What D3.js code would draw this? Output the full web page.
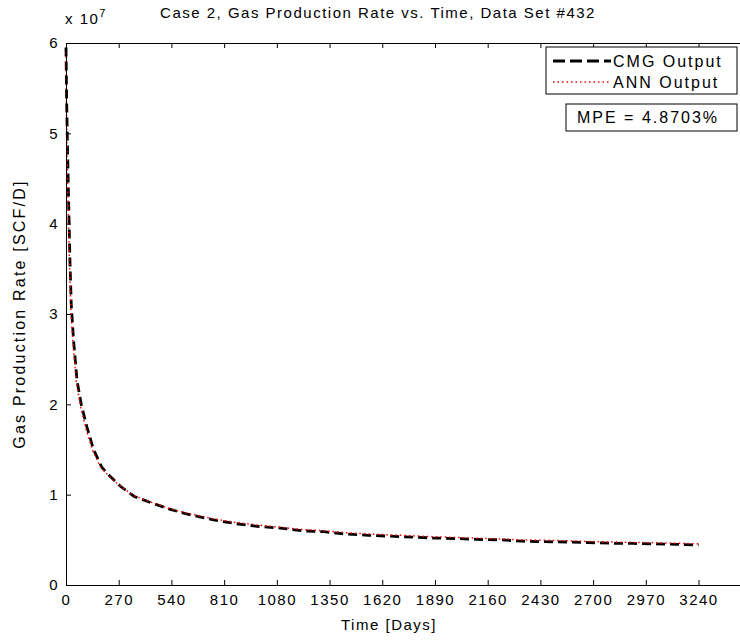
<!DOCTYPE html>
<html>
<head>
<meta charset="utf-8">
<script src="https://cdn.jsdelivr.net/npm/d3@7"></script>
<style>
  body { margin: 0; background: #fff; overflow: hidden; }
  svg { display: block; overflow: hidden; }
  text { font-family: "Liberation Sans", Arial, sans-serif; font-size: 15px; letter-spacing: 1.5px; fill: #000; }
</style>
</head>
<body>
<div id="chart"></div>
<script>
// time in days
var cmgDays = [0, 3, 8, 14, 20, 27, 39, 48, 56, 78, 107, 141, 184, 227, 280, 350, 450, 530, 612, 756, 867, 978, 1098, 1209, 1320, 1431, 1549, 1661, 1773, 1883, 1986, 2105, 2225, 2336, 2446, 2564, 2676, 2789, 2905, 3019, 3130, 3240];
// gas rate, SCF/D
var cmgRate = [5.95e7, 5.4e7, 4.8e7, 4.2e7, 3.6e7, 3.1e7, 2.7e7, 2.48e7, 2.27e7, 2.0e7, 1.75e7, 1.5e7, 1.3e7, 1.2e7, 1.09e7, 9.8e6, 9.0e6, 8.4e6, 7.9e6, 7.2e6, 6.8e6, 6.5e6, 6.3e6, 6.0e6, 5.9e6, 5.65e6, 5.5e6, 5.4e6, 5.3e6, 5.2e6, 5.15e6, 5.05e6, 5.0e6, 4.85e6, 4.8e6, 4.76e6, 4.7e6, 4.62e6, 4.6e6, 4.55e6, 4.5e6, 4.43e6];

var annDays = [0, 2, 6, 12, 18, 25, 36, 45, 53, 74, 102, 136, 178, 222, 275, 345, 445, 525, 608, 750, 862, 975, 1095, 1205, 1318, 1428, 1545, 1658, 1770, 1880, 1984, 2102, 2222, 2333, 2444, 2561, 2673, 2786, 2902, 3016, 3128, 3240];
var annRate = [5.9e7, 5.3e7, 4.7e7, 4.1e7, 3.55e7, 3.05e7, 2.68e7, 2.45e7, 2.25e7, 1.98e7, 1.73e7, 1.49e7, 1.3e7, 1.2e7, 1.1e7, 9.9e6, 9.1e6, 8.5e6, 8.0e6, 7.35e6, 6.95e6, 6.65e6, 6.4e6, 6.15e6, 6.0e6, 5.8e6, 5.65e6, 5.55e6, 5.45e6, 5.35e6, 5.28e6, 5.18e6, 5.1e6, 5.0e6, 4.95e6, 4.9e6, 4.82e6, 4.76e6, 4.72e6, 4.66e6, 4.62e6, 4.55e6];

var xTicks = [0, 270, 540, 810, 1080, 1350, 1620, 1890, 2160, 2430, 2700, 2970, 3240];
var yTicks = [0, 1, 2, 3, 4, 5, 6];

var titleText = "Case 2, Gas Production Rate vs. Time, Data Set #432";
var seriesNames = ["CMG Output", "ANN Output"];
var mpeText = "MPE = 4.8703%";

var margin = {top: 43, left: 66, bottom: 59},
    W = 740, H = 644,
    plotW = 695,
    plotH = H - margin.top - margin.bottom;

var svg = d3.select("#chart").append("svg")
    .attr("width", W)
    .attr("height", H);

var g = svg.append("g")
    .attr("transform", "translate(" + margin.left + "," + margin.top + ")");

// axis runs past the window edge, like the cropped original
var x = d3.scaleLinear().domain([0, 3560]).range([0, plotW]);
var y = d3.scaleLinear().domain([0, 6e7]).range([plotH, 0]);

var line = d3.line()
    .x(function(d) { return x(d[0]); })
    .y(function(d) { return y(d[1]); });

var cmg = d3.zip(cmgDays, cmgRate);
var ann = d3.zip(annDays, annRate);

g.append("path")
    .datum(cmg)
    .attr("d", line)
    .attr("fill", "none")
    .attr("stroke", "#000")
    .attr("stroke-width", 2.8)
    .attr("stroke-dasharray", "9,5");

g.append("path")
    .datum(ann)
    .attr("d", line)
    .attr("fill", "none")
    .attr("stroke", "#ff0000")
    .attr("stroke-width", 1.5)
    .attr("stroke-dasharray", "1.5,3");

// axes, ticks inward
var xAxis = d3.axisBottom(x).tickValues(xTicks).tickSize(-5).tickPadding(9).tickFormat(d3.format("d"));
var xTop = d3.axisTop(x).tickValues(xTicks).tickSize(-5).tickFormat("");
var yAxis = d3.axisLeft(y).tickValues(yTicks.map(function(d) { return d * 1e7; })).tickSize(-5).tickPadding(7)
    .tickFormat(function(d) { return d / 1e7; });
var yRight = d3.axisRight(y).tickValues(yTicks.map(function(d) { return d * 1e7; })).tickSize(-5).tickFormat("");

function styleAxis(sel) {
  sel.selectAll("path").attr("stroke", "#000").attr("stroke-width", 1);
  sel.selectAll("line").attr("stroke", "#000");
  sel.selectAll("text").style("font-size", "15px").attr("fill", "#000");
}

g.append("g").attr("transform", "translate(0," + plotH + ")").call(xAxis).call(styleAxis);
g.append("g").call(xTop).call(styleAxis);
g.append("g").call(yAxis).call(styleAxis);
g.append("g").attr("transform", "translate(" + plotW + ",0)").call(yRight).call(styleAxis);

// exponent label
var expo = svg.append("text")
    .attr("x", 65)
    .attr("y", 24);
expo.append("tspan").text("x 10");
expo.append("tspan").attr("dy", -7).style("font-size", "11px").text("7");

// title and axis labels
svg.append("text")
    .attr("x", 378)
    .attr("y", 18)
    .attr("text-anchor", "middle")
    .text(titleText);

svg.append("text")
    .attr("x", 389)
    .attr("y", 630)
    .attr("text-anchor", "middle")
    .text("Time [Days]");

svg.append("text")
    .attr("transform", "translate(25," + (margin.top + plotH / 2) + ") rotate(-90)")
    .attr("text-anchor", "middle")
    .style("font-size", "16px")
    .style("letter-spacing", "2.2px")
    .text("Gas Production Rate [SCF/D]");

// legend
var legend = svg.append("g").attr("transform", "translate(546,47)");
legend.append("rect")
    .attr("width", 191).attr("height", 47)
    .attr("fill", "#fff").attr("stroke", "#000");

var legStyles = [
  {stroke: "#000", width: 2.8, dash: "12,5"},
  {stroke: "#ff0000", width: 1.5, dash: "1.5,3"}
];
seriesNames.forEach(function(name, i) {
  var yy = 14 + i * 21;
  legend.append("line")
      .attr("x1", 7).attr("x2", 65)
      .attr("y1", yy).attr("y2", yy)
      .attr("stroke", legStyles[i].stroke)
      .attr("stroke-width", legStyles[i].width)
      .attr("stroke-dasharray", legStyles[i].dash);
  legend.append("text")
      .attr("x", 67).attr("y", yy + 6)
      .style("font-size", "16px")
      .style("letter-spacing", "2px")
      .text(name);
});

// MPE box
var mpe = svg.append("g").attr("transform", "translate(566,104)");
mpe.append("rect")
    .attr("width", 171).attr("height", 27)
    .attr("fill", "#fff").attr("stroke", "#000");
mpe.append("text")
    .attr("x", 11).attr("y", 19)
    .style("font-size", "16px")
    .style("letter-spacing", "2px")
    .text(mpeText);
</script>
</body>
</html>
